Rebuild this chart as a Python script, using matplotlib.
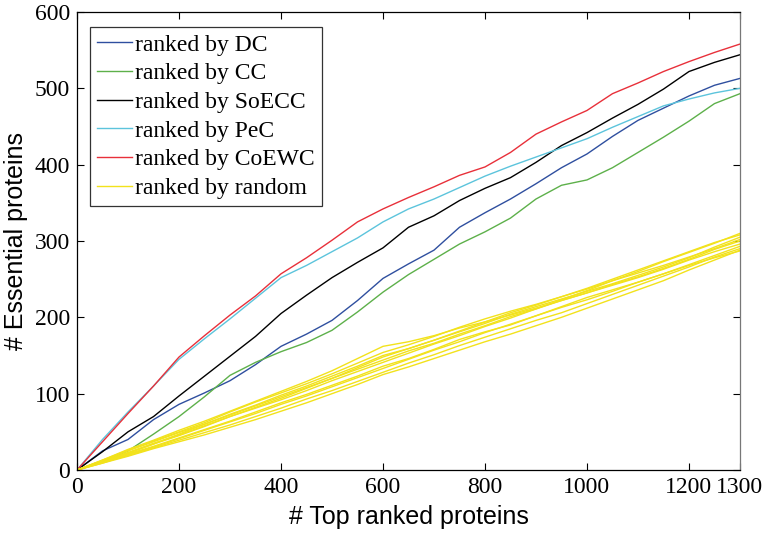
import matplotlib
matplotlib.use("Agg")
import matplotlib.pyplot as plt
import numpy as np

x = [0, 50, 100, 150, 200, 250, 300, 350, 400, 450, 500, 550, 600, 650,
     700, 750, 800, 850, 900, 950, 1000, 1050, 1100, 1150, 1200, 1250, 1300]

dc = [0, 25, 40, 66, 86, 101, 117, 138, 162, 178, 196, 222, 251, 270,
      288, 318, 337, 355, 375, 396, 414, 437, 458, 474, 490, 504, 513]
cc = [0, 12, 25, 47, 70, 96, 124, 141, 155, 167, 183, 207, 233, 256,
      276, 296, 312, 330, 355, 373, 380, 396, 416, 436, 457, 480, 493]
soecc = [0, 24, 50, 70, 97, 123, 149, 175, 205, 229, 252, 272, 291, 318,
         333, 353, 369, 383, 403, 425, 442, 461, 479, 499, 522, 534, 544]
pec = [0, 40, 76, 110, 145, 172, 198, 225, 252, 268, 286, 304, 325, 342,
       355, 370, 385, 398, 410, 422, 434, 449, 463, 477, 486, 494, 500]
coewc = [0, 37, 74, 110, 148, 176, 203, 228, 257, 278, 301, 325, 342, 357,
         371, 386, 397, 416, 440, 456, 471, 493, 507, 522, 535, 547, 558]

random_runs = [
    [0, 13, 27, 39, 52, 64, 77, 90, 103, 116, 130, 146, 162, 168, 176, 186, 194, 203, 212, 222, 232, 243, 253, 264, 276, 289, 300],
    [0, 12, 25, 37, 49, 60, 73, 85, 98, 110, 123, 136, 150, 159, 170, 181, 192, 204, 214, 224, 234, 244, 255, 266, 278, 292, 305],
    [0, 9, 18, 28, 37, 46, 56, 66, 77, 88, 100, 112, 125, 135, 146, 157, 168, 178, 189, 200, 212, 224, 236, 248, 262, 275, 288],
    [0, 11, 22, 34, 45, 57, 70, 82, 94, 107, 120, 134, 148, 159, 170, 182, 194, 206, 216, 227, 238, 250, 262, 274, 286, 298, 308],
    [0, 10, 19, 29, 39, 49, 59, 70, 81, 93, 104, 116, 128, 140, 151, 163, 174, 185, 196, 206, 218, 230, 242, 254, 266, 279, 290],
    [0, 13, 26, 38, 50, 62, 76, 89, 101, 113, 126, 140, 154, 164, 175, 187, 198, 208, 217, 227, 237, 248, 258, 268, 279, 290, 302],
    [0, 10, 21, 31, 42, 53, 64, 76, 88, 99, 111, 123, 136, 146, 158, 171, 181, 190, 202, 214, 226, 236, 246, 257, 268, 278, 287],
    [0, 12, 23, 35, 46, 58, 70, 81, 92, 104, 117, 129, 141, 153, 165, 176, 188, 199, 211, 223, 235, 248, 260, 273, 285, 297, 310],
    [0, 11, 22, 34, 47, 60, 72, 84, 96, 108, 120, 132, 144, 156, 166, 178, 189, 201, 211, 222, 232, 242, 252, 263, 275, 286, 296],
    [0, 9, 20, 30, 41, 52, 63, 74, 86, 97, 109, 121, 133, 145, 157, 168, 180, 191, 202, 213, 223, 234, 246, 257, 269, 281, 293],
]

labels = ["ranked by DC", "ranked by CC", "ranked by SoECC", "ranked by PeC",
          "ranked by CoEWC", "ranked by random"]
xticks = [0, 200, 400, 600, 800, 1000, 1200, 1300]
yticks = [0, 100, 200, 300, 400, 500, 600]

serif = "Liberation Serif"
sans = "Liberation Sans"

fig = plt.figure(figsize=(7.68, 5.38), dpi=100)
ax = fig.add_axes([0.1003, 0.1264, 0.8632, 0.8513])

lw = 1.0
h_dc, = ax.plot(x, dc, color="#2f4f9f", lw=lw)
h_cc, = ax.plot(x, cc, color="#5db04a", lw=lw)
h_so, = ax.plot(x, soecc, color="black", lw=lw)
h_pec, = ax.plot(x, pec, color="#5cc4dc", lw=lw)
h_co, = ax.plot(x, coewc, color="#e8303a", lw=lw)
h_rand = None
for run in random_runs:
    h, = ax.plot(x, run, color="#f2e21c", lw=lw)
    if h_rand is None:
        h_rand = h

ax.set_xlim(0, 1300)
ax.set_ylim(0, 600)
ax.set_xticks(xticks)
ax.set_yticks(yticks)
ax.tick_params(direction="in", top=True, right=True, length=5, width=0.8,
               labelsize=17, pad=5)
for lab in ax.get_xticklabels() + ax.get_yticklabels():
    lab.set_family(serif)
for s in ax.spines.values():
    s.set_linewidth(0.9)
ax.spines["right"].set_color("#777777")

ax.set_xlabel("# Top ranked proteins", fontsize=18, family=sans, labelpad=5)
ax.set_ylabel("# Essential proteins", fontsize=18, family=sans, labelpad=5)

leg = ax.legend([h_dc, h_cc, h_so, h_pec, h_co, h_rand], labels,
                loc="upper left", bbox_to_anchor=(0.019, 0.967),
                prop={"family": serif, "size": 17}, frameon=True, fancybox=False,
                handlelength=1.5, handletextpad=0.13, labelspacing=0.30,
                borderpad=0.3, borderaxespad=0.0)
leg.get_frame().set_edgecolor("black")
leg.get_frame().set_linewidth(0.9)

fig.savefig("out.png", dpi=100)
